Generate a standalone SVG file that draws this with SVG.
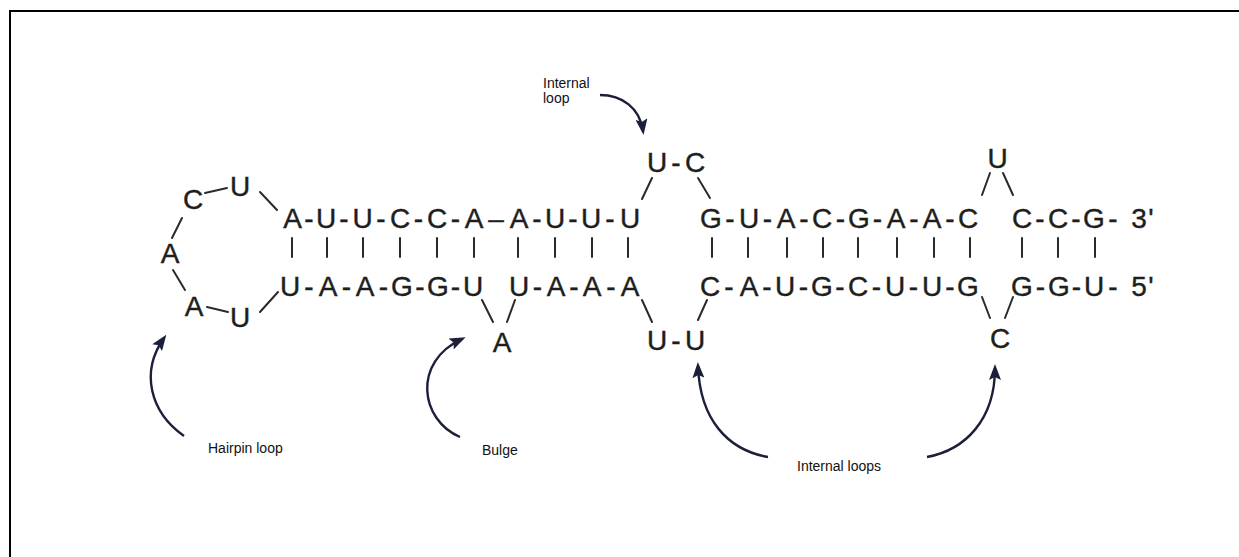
<svg xmlns="http://www.w3.org/2000/svg" width="1239" height="557" viewBox="0 0 1239 557">
<style>
.b{font-family:"Liberation Sans",Arial,sans-serif;font-size:28px;fill:#1e1e1e;stroke:#1e1e1e;stroke-width:0.4;text-anchor:middle}
.l{font-family:"Liberation Sans",Arial,sans-serif;font-size:14px;fill:#111}
.ln{stroke:#2a2a2a;stroke-width:2;stroke-linecap:round;fill:none}
.ar{stroke:#1c1f3a;stroke-width:2.4;fill:none;marker-end:url(#ah)}
</style>
<defs>
<marker id="ah" markerUnits="userSpaceOnUse" viewBox="0 0 16 12" refX="12" refY="6" markerWidth="16" markerHeight="12" orient="auto">
<path d="M0,0 L16,6 L0,12 L3,6 z" fill="#1c1f3a"/>
</marker>
</defs>
<rect width="1239" height="557" fill="#fff"/>
<path d="M10,557 V11 H1239" stroke="#000" stroke-width="2" fill="none"/>

<g id="hairpin">
<text class="b" x="193" y="209">C</text>
<text class="b" x="240" y="196">U</text>
<text class="b" x="170" y="263">A</text>
<text class="b" x="194" y="316">A</text>
<text class="b" x="240" y="327">U</text>
</g>
<g id="top-left-strand"><text class="b" y="228" x="292.5 309 326 344 362.5 381 400 418.5 437 455.5 474 496 519 537 555 573 591 610 630">A-U-U-C-C-A–A-U-U-U</text></g>
<g id="bottom-left-strand"><text class="b" y="296" x="290 309 328 346.5 365 383.5 402 420 438 455.5 473">U-A-A-G-G-U</text></g>
<g id="bottom-mid-strand"><text class="b" y="296" x="519 537.5 556 574 592 611 630">U-A-A-A</text></g>
<g id="bulge"><text class="b" x="502" y="352">A</text></g>
<g id="internal-top"><text class="b" y="172" x="657 676 695">U-C</text></g>
<g id="internal-bottom"><text class="b" y="350" x="657 676 695">U-U</text></g>
<g id="top-right-strand"><text class="b" y="228" x="711 730 749 767.5 786 804 822 840.5 859 877.5 896 914 932 950 968">G-U-A-C-G-A-A-C</text></g>
<g id="bottom-right-strand"><text class="b" y="296" x="710 729 749 767 785 803.5 822 840 858 876.5 895 913.5 932 950 968">C-A-U-G-C-U-U-G</text></g>
<g id="loop-right-top"><text class="b" x="997.5" y="168">U</text></g>
<g id="loop-right-bottom"><text class="b" x="1000" y="348">C</text></g>
<g id="end-3"><text class="b" y="228" x="1022 1040 1058 1076 1094 1113 1125 1139 1151">C-C-G- 3'</text></g>
<g id="end-5"><text class="b" y="296" x="1022 1040.5 1059 1076.5 1094 1113 1125 1139 1151">G-G-U- 5'</text></g>

<g id="label-internal-loop"><text class="l" x="543" y="88">Internal</text><text class="l" x="543" y="103">loop</text></g>
<g id="label-hairpin"><text class="l" x="208" y="453">Hairpin loop</text></g>
<g id="label-bulge"><text class="l" x="482" y="455">Bulge</text></g>
<g id="label-internal-loops"><text class="l" x="797" y="471">Internal loops</text></g>

<g id="connectors">
<g class="ln">
<line x1="292" y1="238" x2="292" y2="257"/><line x1="327" y1="238" x2="327" y2="257"/><line x1="363" y1="238" x2="363" y2="257"/><line x1="400" y1="238" x2="400" y2="257"/><line x1="437" y1="238" x2="437" y2="257"/><line x1="474" y1="238" x2="474" y2="257"/>
<line x1="518" y1="238" x2="518" y2="257"/><line x1="555" y1="238" x2="555" y2="257"/><line x1="592" y1="238" x2="592" y2="257"/><line x1="628" y1="238" x2="628" y2="257"/>
<line x1="712" y1="238" x2="712" y2="257"/><line x1="748" y1="238" x2="748" y2="257"/><line x1="787" y1="238" x2="787" y2="257"/><line x1="823" y1="238" x2="823" y2="257"/><line x1="858" y1="238" x2="858" y2="257"/><line x1="897" y1="238" x2="897" y2="257"/><line x1="934" y1="238" x2="934" y2="257"/><line x1="970" y1="238" x2="970" y2="257"/>
<line x1="1022" y1="238" x2="1022" y2="257"/><line x1="1058" y1="238" x2="1058" y2="257"/><line x1="1095" y1="238" x2="1095" y2="257"/>
<line x1="205" y1="193" x2="227" y2="188"/><line x1="260" y1="192" x2="277" y2="210"/><line x1="172" y1="238" x2="182" y2="218"/><line x1="173" y1="270" x2="185" y2="290"/><line x1="207" y1="307" x2="228" y2="312"/><line x1="260" y1="312" x2="278" y2="292"/>
<line x1="482" y1="300" x2="493" y2="322"/><line x1="515" y1="300" x2="507" y2="322"/>
<line x1="642" y1="199" x2="652" y2="178"/><line x1="698" y1="178" x2="710" y2="198"/>
<line x1="642" y1="300" x2="652" y2="322"/><line x1="707" y1="300" x2="698" y2="320"/>
<line x1="982" y1="195" x2="990" y2="173"/><line x1="1003" y1="173" x2="1013" y2="195"/>
<line x1="982" y1="297" x2="990" y2="318"/><line x1="1013" y1="297" x2="1005" y2="318"/>
</g>
<path class="ar" d="M600,95 C622,95 640,108 643,131"/>
<path class="ar" d="M184,436 C150,412 140,372 164,338"/>
<path class="ar" d="M460,437 C420,420 412,362 462,339"/>
<path class="ar" d="M768,457 C728,450 700,420 698,366"/>
<path class="ar" d="M927,457 C965,450 995,420 995,368"/>
</g>
</svg>
